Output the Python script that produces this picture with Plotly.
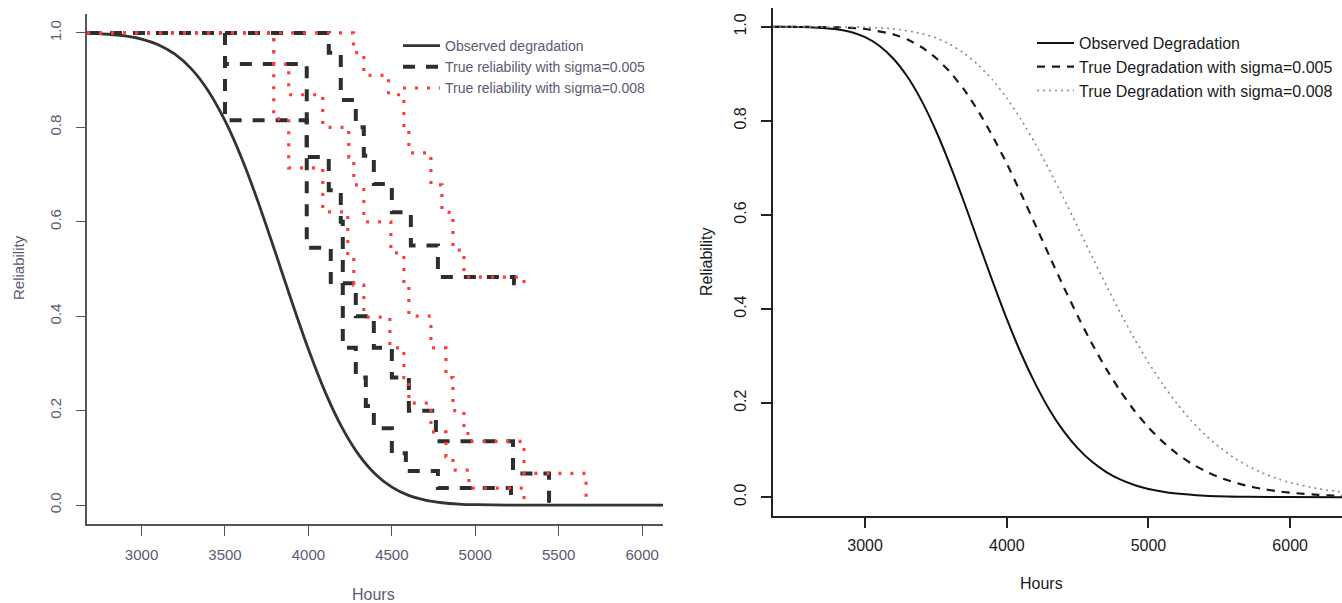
import plotly.graph_objects as go

# ---------------- Left panel data ----------------
obs_left_hours = [2673, 2700, 2800, 2900, 3000, 3100, 3200, 3300, 3400, 3500, 3600, 3700, 3800, 3900,
                  4000, 4100, 4200, 4300, 4400, 4500, 4600, 4700, 4800, 4900, 5000, 5200, 5600, 6125]
obs_left_rel = [0.999, 0.9988, 0.9971, 0.9937, 0.987, 0.975, 0.9548, 0.9232, 0.877, 0.814, 0.7346, 0.6406,
                0.5372, 0.4312, 0.33, 0.2399, 0.1652, 0.1075, 0.066, 0.0381, 0.0207, 0.0105, 0.005, 0.0023,
                0.0009, 0.0001, 0.0, 0.0]

# sigma = 0.005 step curves (lower, middle, upper)
s005_low_hours = [2673, 3500, 3990, 4134, 4206, 4284, 4344, 4392, 4500, 4584, 4776, 5214]
s005_low_rel = [1.0, 0.815, 0.545, 0.466, 0.333, 0.27, 0.21, 0.163, 0.11, 0.072, 0.036, 0.0]
s005_mid_hours = [2673, 3500, 3990, 4122, 4194, 4206, 4284, 4392, 4500, 4602, 4764, 5226, 5442]
s005_mid_rel = [1.0, 0.934, 0.737, 0.667, 0.60, 0.47, 0.40, 0.333, 0.27, 0.20, 0.135, 0.067, 0.0]
s005_up_hours = [2673, 4122, 4194, 4284, 4332, 4392, 4500, 4614, 4776, 5232, 5250]
s005_up_rel = [1.0, 0.958, 0.858, 0.80, 0.74, 0.68, 0.62, 0.55, 0.483, 0.47, 0.47]

# sigma = 0.008 step curves (lower, middle, upper)
s008_low_hours = [2673, 3792, 3882, 4086, 4236, 4272, 4332, 4488, 4572, 4602, 4734, 4824, 4866, 4962, 5292]
s008_low_rel = [1.0, 0.818, 0.714, 0.621, 0.525, 0.466, 0.398, 0.333, 0.27, 0.216, 0.155, 0.102, 0.074, 0.036, 0.0]
s008_mid_hours = [2673, 3792, 3882, 4086, 4242, 4272, 4332, 4494, 4572, 4602, 4734, 4824, 4866, 4932, 4956, 5292, 5664]
s008_mid_rel = [1.0, 0.934, 0.869, 0.80, 0.737, 0.678, 0.60, 0.534, 0.47, 0.40, 0.333, 0.27, 0.20, 0.165, 0.135, 0.067, 0.0]
s008_up_hours = [2673, 4270, 4332, 4480, 4572, 4602, 4734, 4800, 4866, 4932, 5292, 5310]
s008_up_rel = [1.0, 0.958, 0.91, 0.869, 0.80, 0.746, 0.678, 0.62, 0.54, 0.483, 0.47, 0.47]

# ---------------- Right panel data ----------------
obs_right_hours = [2350, 2400, 2600, 2800, 2900, 3000, 3100, 3200, 3300, 3400, 3500, 3600, 3700, 3800,
                   3900, 4000, 4100, 4200, 4300, 4400, 4500, 4600, 4700, 4800, 4900, 5000, 5200, 5400,
                   5700, 6000, 6366]
obs_right_rel = [1.0, 1.0, 0.9992, 0.9949, 0.9889, 0.9779, 0.9598, 0.9322, 0.8932, 0.842, 0.779, 0.706,
                 0.626, 0.542, 0.459, 0.379, 0.306, 0.242, 0.1865, 0.1408, 0.1043, 0.0757, 0.0539, 0.0377,
                 0.0259, 0.0176, 0.0077, 0.0032, 0.0008, 0.0002, 0.0]
true005_hours = [2350, 2800, 3000, 3200, 3300, 3400, 3500, 3600, 3700, 3800, 3900, 4000, 4100, 4200,
                 4300, 4400, 4500, 4600, 4700, 4800, 4900, 5000, 5100, 5200, 5300, 5400, 5500, 5600,
                 5700, 5800, 5900, 6000, 6200, 6366]
true005_rel = [1.0, 0.999, 0.9954, 0.984, 0.9728, 0.9565, 0.9337, 0.9037, 0.8659, 0.8202, 0.7676, 0.7092,
               0.6458, 0.580, 0.5134, 0.448, 0.3856, 0.3271, 0.2738, 0.226, 0.1842, 0.1483, 0.118, 0.0928,
               0.0721, 0.0555, 0.0423, 0.032, 0.0239, 0.0177, 0.013, 0.0095, 0.0049, 0.0028]
true008_hours = [2350, 3000, 3200, 3400, 3500, 3600, 3700, 3800, 3900, 4000, 4100, 4200, 4300, 4400,
                 4500, 4600, 4700, 4800, 4900, 5000, 5100, 5200, 5300, 5400, 5500, 5600, 5700, 5800,
                 5900, 6000, 6200, 6366]
true008_rel = [1.0, 0.999, 0.9957, 0.9858, 0.9764, 0.9626, 0.9437, 0.9186, 0.887, 0.8485, 0.8033, 0.7522,
               0.696, 0.6363, 0.5748, 0.5125, 0.4514, 0.3925, 0.3372, 0.2863, 0.2402, 0.1993, 0.1634,
               0.1326, 0.1066, 0.0848, 0.0668, 0.0522, 0.0404, 0.031, 0.0178, 0.011]

left_xticks = [3000, 3500, 4000, 4500, 5000, 5500, 6000]
right_xticks = [3000, 4000, 5000, 6000]
y_ticks = [0.0, 0.2, 0.4, 0.6, 0.8, 1.0]

W, H = 1342, 603
LEFT_TXT = "#5a5a72"
RIGHT_TXT = "#1a1a1a"
FONT = "Liberation Sans, Arial, sans-serif"

fig = go.Figure()

# Left panel traces
fig.add_trace(go.Scatter(x=obs_left_hours, y=obs_left_rel, mode="lines",
                         line=dict(color="#333333", width=2.8, shape="spline", smoothing=0.6),
                         name="Observed degradation", legend="legend", xaxis="x", yaxis="y"))
black_dash = dict(color="#2e2e2e", width=4, shape="hv", dash="12px,11px")
red_dot = dict(color="#ff3b3b", width=3.2, shape="hv", dash="3px,9px")
for i, (hx, ry) in enumerate([(s005_mid_hours, s005_mid_rel), (s005_low_hours, s005_low_rel), (s005_up_hours, s005_up_rel)]):
    fig.add_trace(go.Scatter(x=hx, y=ry, mode="lines", line=black_dash, name="True reliability with sigma=0.005",
                             legendgroup="b", showlegend=(i == 0), legend="legend", xaxis="x", yaxis="y"))
for i, (hx, ry) in enumerate([(s008_mid_hours, s008_mid_rel), (s008_low_hours, s008_low_rel), (s008_up_hours, s008_up_rel)]):
    fig.add_trace(go.Scatter(x=hx, y=ry, mode="lines", line=red_dot, name="True reliability with sigma=0.008",
                             legendgroup="r", showlegend=(i == 0), legend="legend", xaxis="x", yaxis="y"))

# Right panel traces
fig.add_trace(go.Scatter(x=obs_right_hours, y=obs_right_rel, mode="lines",
                         line=dict(color="#111111", width=2, shape="spline", smoothing=0.6),
                         name="Observed Degradation", legend="legend2", xaxis="x2", yaxis="y2"))
fig.add_trace(go.Scatter(x=true005_hours, y=true005_rel, mode="lines",
                         line=dict(color="#1a1a1a", width=2.2, shape="spline", smoothing=0.6, dash="8px,7px"),
                         name="True Degradation with sigma=0.005", legend="legend2", xaxis="x2", yaxis="y2"))
fig.add_trace(go.Scatter(x=true008_hours, y=true008_rel, mode="lines",
                         line=dict(color="#8a8a8a", width=1.6, shape="spline", smoothing=0.6, dash="2px,4px"),
                         name="True Degradation with sigma=0.008", legend="legend2", xaxis="x2", yaxis="y2"))

def px_x(p):
    return p / W

def px_y(p):
    return (H - p) / H

common_ax = dict(showgrid=False, zeroline=False, showline=True, ticks="outside", mirror=False)

fig.update_layout(
    width=W, height=H,
    margin=dict(l=0, r=0, t=0, b=0),
    paper_bgcolor="white", plot_bgcolor="white",
    font=dict(family=FONT),
    xaxis=dict(**common_ax, domain=[px_x(87), px_x(663)], range=[2673, 6125], anchor="y",
               tickvals=left_xticks, ticktext=[str(v) for v in left_xticks],
               linecolor="#555555", linewidth=1.6, tickcolor="#555555", tickwidth=1.4, ticklen=10,
               tickfont=dict(size=15, color=LEFT_TXT), ticklabelstandoff=6),
    yaxis=dict(**common_ax, domain=[px_y(524), px_y(14)], range=[-0.04, 1.04], anchor="x",
               tickvals=y_ticks, ticktext=[f"{v:.1f}" for v in y_ticks], tickangle=-90,
               linecolor="#555555", linewidth=1.6, tickcolor="#555555", tickwidth=1.4, ticklen=9,
               tickfont=dict(size=15, color=LEFT_TXT), ticklabelstandoff=9),
    xaxis2=dict(**common_ax, domain=[px_x(773), 1.0], range=[2350, 6366], anchor="y2",
                tickvals=right_xticks, ticktext=[str(v) for v in right_xticks],
                linecolor="#222222", linewidth=2, tickcolor="#222222", tickwidth=1.5, ticklen=10,
                tickfont=dict(size=16, color=RIGHT_TXT), ticklabelstandoff=4),
    yaxis2=dict(**common_ax, domain=[px_y(516), px_y(8)], range=[-0.04, 1.04], anchor="x2",
                tickvals=y_ticks, ticktext=[f"{v:.1f}" for v in y_ticks], tickangle=-90,
                linecolor="#222222", linewidth=2, tickcolor="#222222", tickwidth=1.5, ticklen=10,
                tickfont=dict(size=16, color=RIGHT_TXT), ticklabelstandoff=9),
    legend=dict(x=px_x(398), y=px_y(30), xanchor="left", yanchor="top", bgcolor="rgba(0,0,0,0)",
                font=dict(size=14, color=LEFT_TXT, family=FONT), itemwidth=37, tracegroupgap=0),
    legend2=dict(x=px_x(1032), y=px_y(26), xanchor="left", yanchor="top", bgcolor="rgba(0,0,0,0)",
                 font=dict(size=16, color=RIGHT_TXT, family=FONT), itemwidth=37, tracegroupgap=0),
    annotations=[
        dict(text="Hours", x=px_x(373), y=px_y(594), xref="paper", yref="paper", showarrow=False,
             xanchor="center", yanchor="middle", font=dict(size=16, color=LEFT_TXT)),
        dict(text="Reliability", x=px_x(18), y=px_y(268), xref="paper", yref="paper", showarrow=False,
             xanchor="center", yanchor="middle", textangle=-90, font=dict(size=15, color=LEFT_TXT)),
        dict(text="Hours", x=px_x(1041), y=px_y(583), xref="paper", yref="paper", showarrow=False,
             xanchor="center", yanchor="middle", font=dict(size=16, color=RIGHT_TXT)),
        dict(text="Reliability", x=px_x(706), y=px_y(262), xref="paper", yref="paper", showarrow=False,
             xanchor="center", yanchor="middle", textangle=-90, font=dict(size=16, color=RIGHT_TXT)),
    ],
)

fig.write_html("out.html", config={"displayModeBar": False},
               post_script="document.body.style.margin='0';document.body.style.overflow='hidden';")
